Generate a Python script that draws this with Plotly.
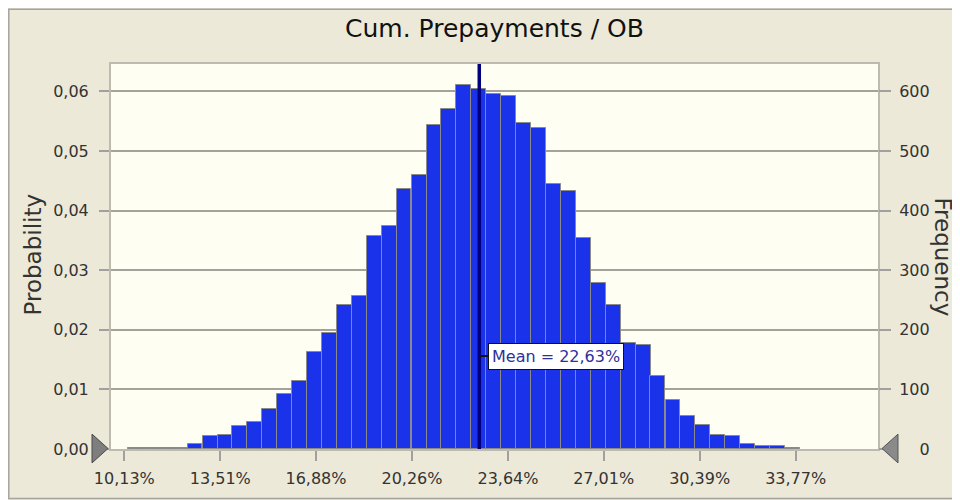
import plotly.graph_objects as go

# simulation output: bin centres (%) and counts per bin
bin_centers = [
    10.52, 11.05, 11.57, 12.10, 12.62, 13.15, 13.68, 14.20, 14.73, 15.25,
    15.78, 16.30, 16.83, 17.36, 17.88, 18.41, 18.93, 19.46, 19.98, 20.51,
    21.04, 21.56, 22.09, 22.61, 23.14, 23.66, 24.19, 24.72, 25.24, 25.77,
    26.29, 26.82, 27.34, 27.87, 28.40, 28.92, 29.45, 29.97, 30.50, 31.02,
    31.55, 32.08, 32.60, 33.13, 33.65,
]
frequency = [
    1, 1, 2, 1, 8, 21, 23, 38, 46, 67,
    93, 114, 163, 194, 242, 256, 357, 375, 436, 460,
    543, 570, 610, 604, 596, 593, 547, 538, 444, 433,
    354, 279, 242, 178, 175, 122, 82, 56, 41, 23,
    21, 9, 5, 5, 2,
]
trials = 10000
mean_value = 22.63

x_tickvals = [10.13, 13.51, 16.88, 20.26, 23.64, 27.01, 30.39, 33.77]
x_ticktext = ["10,13%", "13,51%", "16,88%", "20,26%", "23,64%", "27,01%", "30,39%", "33,77%"]
prob_tickvals = [0, 0.01, 0.02, 0.03, 0.04, 0.05, 0.06]
prob_ticktext = ["0,00", "0,01", "0,02", "0,03", "0,04", "0,05", "0,06"]
freq_tickvals = [0, 100, 200, 300, 400, 500, 600]
# right-aligned frequency labels (figure spaces pad the zero)
freq_ticktext = ["\u2007\u20070", "100", "200", "300", "400", "500", "600"]

probability = [f / trials for f in frequency]

FONT = "DejaVu Sans"
# the page puts the figure 8px in from the top-left corner
OFF = 8
W, H = 952, 492
ML, MR, MT, MB = 103, 82, 56, 48
PW, PH = W - ML - MR, H - MT - MB


def px(x):
    # page pixel -> paper x
    return (x - OFF - ML) / PW


def py(y):
    # page pixel -> paper y
    return (H + OFF - MB - y) / PH


fig = go.Figure()

fig.add_trace(
    go.Bar(
        x=bin_centers,
        y=probability,
        width=0.5254,
        marker_color="#1a33ea",
        marker_line=dict(color="#8a8a8a", width=1),
        showlegend=False,
        hovertemplate="%{x:.2f}%: %{y:.4f}<extra></extra>",
    )
)

# frequency scale on the right shares the same bars
fig.add_trace(
    go.Scatter(
        x=bin_centers,
        y=frequency,
        yaxis="y2",
        mode="none",
        hoverinfo="skip",
        showlegend=False,
    )
)

shapes = [
    # panel border
    dict(type="rect", xref="paper", yref="paper", x0=px(8.8), x1=px(962), y0=py(502), y1=py(8.8),
         line=dict(color="#a4a4a0", width=1.5), layer="below"),
    # mean line
    dict(type="line", xref="x", yref="paper", x0=mean_value, x1=mean_value, y0=0, y1=1,
         line=dict(color="#00007c", width=3.5)),
    # certainty grabbers
    dict(type="path", xref="paper", yref="paper",
         path=f"M {px(92)},{py(437)} L {px(108)},{py(451.5)} L {px(92)},{py(466)} Z",
         fillcolor="#7e7e7e", line=dict(color="#4a4a4a", width=1)),
    dict(type="path", xref="paper", yref="paper",
         path=f"M {px(898)},{py(437)} L {px(882)},{py(451.5)} L {px(898)},{py(466)} Z",
         fillcolor="#8a8a8a", line=dict(color="#555555", width=1)),
]

annotations = [
    dict(text="Cum. Prepayments / OB", xref="paper", yref="paper", x=0.5, y=py(28),
         showarrow=False, xanchor="center", yanchor="middle",
         font=dict(family=FONT, size=25, color="#111111")),
    dict(text="Probability", xref="paper", yref="paper", x=px(33), y=py(256),
         showarrow=False, textangle=-90, xanchor="center", yanchor="middle",
         font=dict(family=FONT, size=23, color="#333333")),
    dict(text="Frequency", xref="paper", yref="paper", x=px(943), y=py(258),
         showarrow=False, textangle=90, xanchor="center", yanchor="middle",
         font=dict(family=FONT, size=23, color="#333333")),
    dict(text="Mean = 22,63%", x=mean_value, y=0.0156, xref="x", yref="y",
         showarrow=True, arrowhead=0, arrowwidth=2, arrowcolor="#111111",
         ax=9, ay=0, xanchor="left", yanchor="middle",
         bgcolor="white", bordercolor="#111111", borderwidth=1, borderpad=3,
         font=dict(family=FONT, size=16, color="#30309a")),
]

fig.update_layout(
    width=W,
    height=H,
    margin=dict(l=ML, r=MR, t=MT, b=MB),
    paper_bgcolor="#ece9d8",
    plot_bgcolor="#fefef3",
    bargap=0,
    shapes=shapes,
    annotations=annotations,
    xaxis=dict(
        range=[9.662, 36.67],
        tickvals=x_tickvals,
        ticktext=x_ticktext,
        ticks="outside",
        ticklen=10,
        tickwidth=1.5,
        tickcolor="#a0a0a0",
        ticklabelstandoff=4,
        showgrid=False,
        zeroline=False,
        showline=True,
        mirror=True,
        linecolor="#bdbab0",
        linewidth=2,
        tickfont=dict(family=FONT, size=16, color="#333333"),
    ),
    yaxis=dict(
        range=[0, 0.0646],
        tickvals=prob_tickvals,
        ticktext=prob_ticktext,
        ticks="outside",
        ticklen=10,
        tickwidth=1.5,
        tickcolor="#a0a0a0",
        ticklabelstandoff=7,
        showgrid=True,
        gridcolor="#a3a39b",
        gridwidth=2,
        zeroline=False,
        showline=True,
        mirror=True,
        linecolor="#bdbab0",
        linewidth=2,
        tickfont=dict(family=FONT, size=16, color="#333333"),
    ),
    yaxis2=dict(
        range=[0, 646],
        overlaying="y",
        side="right",
        tickvals=freq_tickvals,
        ticktext=freq_ticktext,
        ticks="outside",
        ticklen=12,
        tickwidth=1.5,
        tickcolor="#a0a0a0",
        ticklabelstandoff=5,
        showgrid=False,
        zeroline=False,
        tickfont=dict(family=FONT, size=16, color="#333333"),
    ),
)

fig.write_html("out.html")
